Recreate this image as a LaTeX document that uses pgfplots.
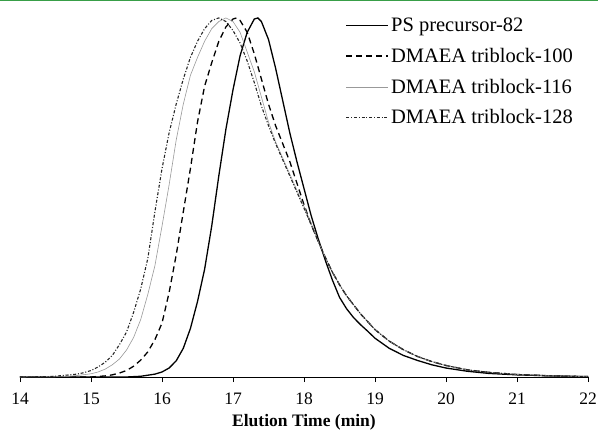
\documentclass[border=0pt]{standalone}
\usepackage{pgfplots}
\pgfplotsset{compat=1.18}
\usepackage{fontspec}
\setmainfont{Liberation Serif}
\usetikzlibrary{calc}
\definecolor{topgreen}{RGB}{56,158,72}
\begin{document}
\begin{tikzpicture}
\begin{axis}[name=ax,
  scale only axis, width=568pt, height=377pt,
  xmin=14, xmax=22, ymin=0, ymax=1.05,
  axis x line=bottom, axis y line=none,
  axis line style={-, black, line width=0.8pt},
  xtick={14,15,...,22},
  tick align=outside, major tick length=5pt,
  tick style={black, line width=0.8pt},
  /pgf/number format/assume math mode=true,
  xticklabel style={font=\fontsize{17.5}{19}\selectfont, yshift=-7pt},
  xlabel={\textbf{Elution Time (min)}},
  xlabel style={font=\fontsize{17.5}{19}\selectfont, yshift=-3pt},
  legend cell align=left,
  legend style={at={(rel axis cs:0.568,0.963)}, anchor=north west, draw=none, fill=none,
    font=\fontsize{20.5}{22}\selectfont, row sep=11pt},
  legend image code/.code={\draw[#1] (0pt,0pt) -- (42pt,0pt);},
]
\addplot[black, line width=1.3pt] coordinates {
(14.0,0) (15.5,0) (15.7,0.002) (15.9,0.008) (16.0,0.014) (16.1,0.025) (16.2,0.045) (16.3,0.08)
(16.4,0.135) (16.5,0.21) (16.6,0.30) (16.7,0.42) (16.8,0.56) (16.9,0.69) (17.0,0.80) (17.1,0.895)
(17.2,0.96) (17.3,0.997) (17.35,1.0) (17.4,0.99) (17.5,0.94) (17.6,0.86) (17.7,0.77) (17.8,0.68)
(17.9,0.60) (18.0,0.525) (18.1,0.45) (18.2,0.385) (18.3,0.325) (18.4,0.27) (18.5,0.222) (18.6,0.19)
(18.7,0.165) (18.8,0.145) (18.9,0.127) (19.0,0.108) (19.2,0.08) (19.4,0.06) (19.6,0.046) (19.8,0.034)
(20.0,0.025) (20.3,0.016) (20.6,0.010) (21.0,0.006) (21.5,0.003) (22.0,0.001)};
\addlegendentry{PS precursor-82}
\addplot[black, line width=1.3pt, dash pattern=on 6pt off 4pt] coordinates {
(14.0,0) (15.0,0) (15.2,0.003) (15.3,0.006) (15.4,0.011) (15.5,0.018) (15.6,0.03) (15.7,0.047)
(15.8,0.07) (15.9,0.104) (16.0,0.15) (16.1,0.235) (16.2,0.34) (16.3,0.46) (16.4,0.58) (16.5,0.71)
(16.6,0.81) (16.7,0.875) (16.8,0.935) (16.9,0.975) (17.0,0.997) (17.05,1.0) (17.1,0.993) (17.2,0.96)
(17.3,0.9) (17.4,0.83) (17.5,0.76) (17.6,0.70) (17.7,0.65) (17.8,0.60) (17.9,0.54) (18.0,0.48)
(18.1,0.425) (18.2,0.378) (18.3,0.333) (18.4,0.292) (18.5,0.257) (18.6,0.226) (18.8,0.175) (19.0,0.132)
(19.2,0.1) (19.4,0.076) (19.6,0.057) (19.8,0.043) (20.0,0.032) (20.3,0.02) (20.6,0.013) (21.0,0.007)
(21.5,0.003) (22.0,0.001)};
\addlegendentry{DMAEA triblock-100}
\addplot[black!40, line width=0.6pt] coordinates {
(14.0,0) (14.6,0.001) (14.8,0.004) (15.0,0.009) (15.1,0.014) (15.2,0.022) (15.3,0.034) (15.4,0.05)
(15.5,0.075) (15.6,0.11) (15.7,0.16) (15.8,0.23) (15.9,0.31) (16.0,0.42) (16.1,0.535) (16.2,0.66)
(16.3,0.76) (16.4,0.84) (16.5,0.89) (16.6,0.935) (16.7,0.97) (16.8,0.99) (16.9,1.0) (17.0,0.99)
(17.1,0.96) (17.2,0.905) (17.3,0.85) (17.4,0.78) (17.5,0.71) (17.6,0.655) (17.7,0.61) (17.8,0.565)
(17.9,0.52) (18.0,0.475) (18.1,0.428) (18.2,0.378) (18.3,0.333) (18.4,0.292) (18.5,0.257) (18.6,0.226)
(18.8,0.175) (19.0,0.132) (19.2,0.1) (19.4,0.076) (19.6,0.057) (19.8,0.043) (20.0,0.032) (20.3,0.02)
(20.6,0.013) (21.0,0.007) (21.5,0.003) (22.0,0.001)};
\addlegendentry{DMAEA triblock-116}
\addplot[black!85, line width=1.1pt, dash pattern=on 3pt off 1.8pt on 1pt off 1.8pt] coordinates {
(14.0,0) (14.4,0.001) (14.6,0.004) (14.8,0.008) (14.9,0.012) (15.0,0.018) (15.1,0.028) (15.2,0.041)
(15.3,0.06) (15.4,0.09) (15.5,0.125) (15.6,0.18) (15.7,0.245) (15.8,0.33) (15.9,0.46) (16.0,0.58)
(16.1,0.68) (16.2,0.76) (16.3,0.83) (16.4,0.89) (16.5,0.935) (16.6,0.97) (16.7,0.993) (16.8,1.0)
(16.9,0.99) (17.0,0.965) (17.1,0.93) (17.2,0.88) (17.3,0.82) (17.4,0.755) (17.5,0.70) (17.6,0.65)
(17.7,0.605) (17.8,0.56) (17.9,0.515) (18.0,0.47) (18.1,0.425) (18.2,0.378) (18.3,0.333) (18.4,0.292)
(18.5,0.257) (18.6,0.226) (18.8,0.175) (19.0,0.132) (19.2,0.1) (19.4,0.076) (19.6,0.057) (19.8,0.043)
(20.0,0.032) (20.3,0.02) (20.6,0.013) (21.0,0.007) (21.5,0.003) (22.0,0.001)};
\addlegendentry{DMAEA triblock-128}
\end{axis}
\draw[topgreen, line width=1.5pt] ($(ax.north west)+(-20pt,-0.75pt)$) -- ($(ax.north east)+(10pt,-0.75pt)$);
\pgfresetboundingbox
\path ($(ax.south west)+(-20pt,-61pt)$) rectangle ($(ax.north east)+(10pt,0pt)$);
\end{tikzpicture}
\end{document}
